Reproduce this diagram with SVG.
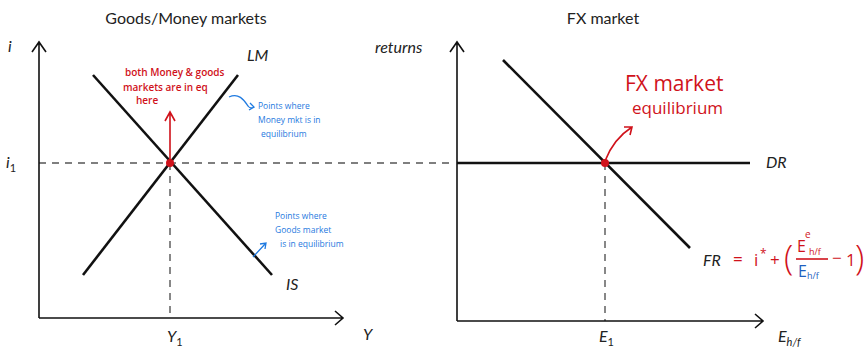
<svg xmlns="http://www.w3.org/2000/svg" width="867" height="347" viewBox="0 0 867 347">
<style>
.title{font-family:Lato,"Open Sans",sans-serif;font-size:16px;fill:#222}
.lab{font-family:Lato,"Open Sans",sans-serif;font-size:16px;fill:#222;font-style:italic}
.sub{font-family:Lato,"Open Sans",sans-serif;font-size:11px;fill:#222}
.axis{stroke:#111;stroke-width:1.6;fill:none}
.curve{stroke:#111;stroke-width:2.6;fill:none}
.dash{stroke:#555;stroke-width:1.4;stroke-dasharray:7,6;fill:none}
.red{font-family:"Open Sans",sans-serif;fill:#d0121b}
.blue{font-family:"Open Sans",sans-serif;font-size:8.5px;fill:#1f7ae0}
.redl{stroke:#d0121b;stroke-width:1.6;fill:none}
.bluel{stroke:#1f7ae0;stroke-width:1.3;fill:none}
</style>
<rect width="867" height="347" fill="#fff"/>
<text class="title" x="186" y="24" text-anchor="middle">Goods/Money markets</text>
<text class="title" x="603" y="24" text-anchor="middle">FX market</text>
<g id="connectors">
<path class="dash" d="M39,163 H450"/>
<path class="dash" d="M170,163 V318"/>
<path class="dash" d="M605,163 V321"/>
</g>
<g id="left-axes">
<path class="axis" d="M39,318 V42 M32,52 L39,42 L46,52 M39,318 H343 M335,311 L343,318 L335,325"/>
<text class="lab" x="8" y="52">i</text>
<text class="lab" x="6" y="168">i<tspan class="sub" font-style="normal" dy="4">1</tspan></text>
<text class="lab" x="167" y="342">Y<tspan class="sub" font-style="normal" dy="4">1</tspan></text>
<text class="lab" x="363" y="340">Y</text>
</g>
<g id="IS">
<path class="curve" d="M93,75 L272,275"/>
<text class="lab" x="286" y="290">IS</text>
</g>
<g id="LM">
<path class="curve" d="M238,75 L83,275"/>
<text class="lab" x="247" y="61">LM</text>
</g>
<g id="eq-left">
<circle cx="170" cy="163" r="4" fill="#d0121b"/>
<path class="redl" d="M170,160 V113 M165,121 L170,112 L175,121"/>
<text class="red" font-size="10" font-weight="600" x="125" y="76">both Money &amp; goods</text>
<text class="red" font-size="10" font-weight="600" x="123" y="91">markets are in eq</text>
<text class="red" font-size="10" font-weight="600" x="136" y="104">here</text>
</g>
<g id="note-LM">
<path class="bluel" d="M229,97 C240,92 245,102 248,106 C250,109 252,108 254,107 M250,103 L254,107 L249,110"/>
<text class="blue" x="258" y="109">Points where</text>
<text class="blue" x="258" y="123">Money mkt is in</text>
<text class="blue" x="261" y="137">equilibrium</text>
</g>
<g id="note-IS">
<path class="bluel" d="M253,257 L266,243 M260,244 L266,243 L265,249"/>
<text class="blue" x="275" y="219">Points where</text>
<text class="blue" x="275" y="233">Goods market</text>
<text class="blue" x="280" y="247">is in equilibrium</text>
</g>
<g id="right-axes">
<path class="axis" d="M457,321 V42 M450,52 L457,42 L464,52 M457,321 H763 M755,314 L763,321 L755,328"/>
<text class="lab" x="375" y="53" font-size="15">returns</text>
<text class="lab" x="599" y="342">E<tspan class="sub" font-style="normal" dy="4">1</tspan></text>
<text class="lab" x="778" y="342">E<tspan class="sub" font-size="12" dy="4">h/f</tspan></text>
</g>
<g id="DR">
<path class="curve" d="M457,163 H750"/>
<text class="lab" x="766" y="168">DR</text>
</g>
<g id="FR">
<path class="curve" d="M503,60 L690,248"/>
<text class="lab" x="703" y="266">FR</text>
<g class="red" font-size="17">
<text x="733" y="265">=</text>
<text x="754" y="266">i</text>
<text x="760" y="258" font-size="12">*</text>
<text x="770" y="266">+</text>
<text x="784" y="270" font-size="34" font-weight="300">(</text>
<text x="797" y="252" font-size="16">E</text>
<text x="805" y="238" font-size="10">e</text>
<text x="809" y="255" font-size="9">h/f</text>
<text x="832" y="264">−</text>
<text x="846" y="266">1</text>
<text x="855" y="270" font-size="34" font-weight="300">)</text>
</g>
<path class="redl" d="M796,259 H828"/>
<text font-family="Open Sans,sans-serif" fill="#1f5fc0" font-size="16" x="798" y="277">E<tspan font-size="9" dy="2">h/f</tspan></text>
</g>
<g id="eq-right">
<circle cx="605" cy="163" r="4" fill="#d0121b"/>
<path class="redl" d="M605,161 C610,148 618,136 632,127 M624,127 L632,127 L630,135"/>
<text class="red" font-size="21" x="625" y="91">FX market</text>
<text class="red" font-size="17" x="632" y="114">equilibrium</text>
</g>
</svg>
